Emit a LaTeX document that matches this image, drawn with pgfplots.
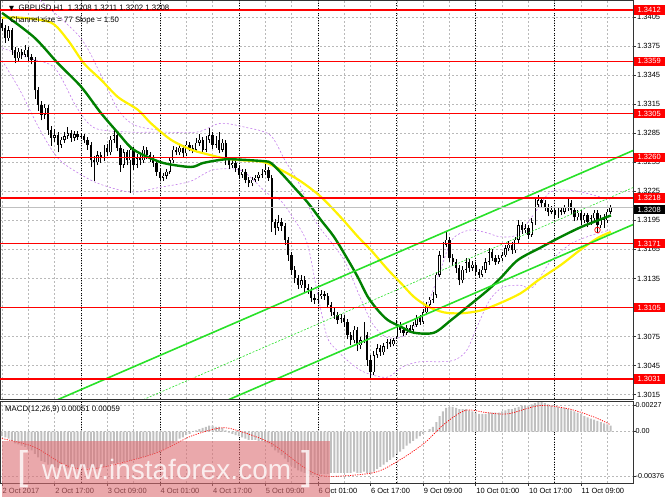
\documentclass[border=0pt]{standalone}
\usepackage{pgfplots}
\pgfplotsset{compat=1.18}
\usepackage{pgfplotstable}
\usepackage{fontspec}
\setmainfont{Liberation Sans}
\newfontfamily\dejavu{DejaVu Sans}
\definecolor{mtgreen}{RGB}{0,128,0}
\definecolor{chan}{RGB}{40,225,40}
\definecolor{bband}{RGB}{195,125,235}
\definecolor{gridc}{RGB}{185,185,185}
\definecolor{silverc}{RGB}{192,192,192}
\definecolor{wm}{RGB}{220,110,115}
\newcommand{\lbl}{\fontsize{7.5bp}{8bp}\selectfont}
\newcommand{\hdr}{\fontsize{7.8bp}{8bp}\selectfont}

\pgfplotstableread{
i o h l c
0 1.3399 1.3403 1.3390 1.3393
1 1.3393 1.3396 1.3378 1.3383
2 1.3383 1.3395 1.3380 1.3391
3 1.3391 1.3393 1.3366 1.3371
4 1.3371 1.3374 1.3357 1.3362
5 1.3362 1.3373 1.3359 1.3369
6 1.3369 1.3372 1.3361 1.3366
7 1.3366 1.3376 1.3363 1.3371
8 1.3371 1.3374 1.3359 1.3363
9 1.3363 1.3367 1.3356 1.3360
10 1.3360 1.3363 1.3320 1.3329
11 1.3329 1.3333 1.3308 1.3314
12 1.3314 1.3318 1.3298 1.3304
13 1.3304 1.3315 1.3300 1.3311
14 1.3311 1.3314 1.3283 1.3288
15 1.3288 1.3292 1.3272 1.3280
16 1.3280 1.3289 1.3276 1.3283
17 1.3283 1.3286 1.3265 1.3273
18 1.3273 1.3281 1.3270 1.3278
19 1.3278 1.3286 1.3275 1.3282
20 1.3282 1.3291 1.3279 1.3285
21 1.3285 1.3288 1.3276 1.3280
22 1.3280 1.3287 1.3277 1.3284
23 1.3284 1.3287 1.3278 1.3281
24 1.3281 1.3285 1.3279 1.3282
25 1.3282 1.3284 1.3275 1.3278
26 1.3278 1.3281 1.3268 1.3273
27 1.3273 1.3276 1.3250 1.3257
28 1.3257 1.3261 1.3236 1.3255
29 1.3255 1.3266 1.3252 1.3262
30 1.3262 1.3265 1.3254 1.3259
31 1.3259 1.3273 1.3256 1.3270
32 1.3270 1.3274 1.3261 1.3265
33 1.3265 1.3282 1.3262 1.3278
34 1.3278 1.3289 1.3275 1.3283
35 1.3283 1.3286 1.3266 1.3270
36 1.3270 1.3273 1.3245 1.3252
37 1.3252 1.3269 1.3249 1.3265
38 1.3265 1.3268 1.3252 1.3257
39 1.3257 1.3272 1.3223 1.3268
40 1.3268 1.3271 1.3247 1.3252
41 1.3252 1.3263 1.3249 1.3259
42 1.3259 1.3262 1.3252 1.3257
43 1.3257 1.3272 1.3254 1.3268
44 1.3268 1.3271 1.3258 1.3262
45 1.3262 1.3265 1.3255 1.3259
46 1.3259 1.3262 1.3250 1.3254
47 1.3254 1.3257 1.3241 1.3245
48 1.3245 1.3248 1.3236 1.3239
49 1.3239 1.3244 1.3236 1.3241
50 1.3241 1.3248 1.3238 1.3245
51 1.3245 1.3260 1.3243 1.3257
52 1.3257 1.3272 1.3254 1.3268
53 1.3268 1.3271 1.3262 1.3265
54 1.3265 1.3274 1.3262 1.3270
55 1.3270 1.3273 1.3260 1.3264
56 1.3264 1.3277 1.3261 1.3273
57 1.3273 1.3276 1.3266 1.3270
58 1.3270 1.3273 1.3264 1.3268
59 1.3268 1.3280 1.3265 1.3275
60 1.3275 1.3284 1.3272 1.3278
61 1.3278 1.3281 1.3264 1.3268
62 1.3268 1.3282 1.3265 1.3278
63 1.3278 1.3290 1.3275 1.3283
64 1.3283 1.3286 1.3269 1.3273
65 1.3273 1.3282 1.3270 1.3278
66 1.3278 1.3286 1.3264 1.3268
67 1.3268 1.3279 1.3265 1.3275
68 1.3275 1.3278 1.3252 1.3257
69 1.3257 1.3260 1.3248 1.3252
70 1.3252 1.3257 1.3249 1.3254
71 1.3254 1.3257 1.3245 1.3249
72 1.3249 1.3252 1.3238 1.3242
73 1.3242 1.3248 1.3239 1.3245
74 1.3245 1.3248 1.3233 1.3237
75 1.3237 1.3240 1.3229 1.3233
76 1.3233 1.3240 1.3230 1.3237
77 1.3237 1.3242 1.3234 1.3239
78 1.3239 1.3245 1.3236 1.3242
79 1.3242 1.3248 1.3239 1.3245
80 1.3245 1.3253 1.3242 1.3247
81 1.3247 1.3250 1.3236 1.3239
82 1.3239 1.3242 1.3183 1.3193
83 1.3193 1.3196 1.3180 1.3187
84 1.3187 1.3200 1.3184 1.3193
85 1.3193 1.3197 1.3184 1.3189
86 1.3189 1.3192 1.3170 1.3175
87 1.3175 1.3178 1.3153 1.3159
88 1.3159 1.3162 1.3139 1.3144
89 1.3144 1.3148 1.3130 1.3135
90 1.3135 1.3139 1.3124 1.3128
91 1.3128 1.3139 1.3125 1.3133
92 1.3133 1.3137 1.3120 1.3125
93 1.3125 1.3129 1.3119 1.3123
94 1.3123 1.3126 1.3111 1.3115
95 1.3115 1.3119 1.3109 1.3113
96 1.3113 1.3121 1.3110 1.3117
97 1.3117 1.3123 1.3114 1.3119
98 1.3119 1.3122 1.3113 1.3117
99 1.3117 1.3120 1.3104 1.3108
100 1.3108 1.3111 1.3096 1.3100
101 1.3100 1.3104 1.3093 1.3097
102 1.3097 1.3100 1.3088 1.3092
103 1.3092 1.3098 1.3089 1.3094
104 1.3094 1.3097 1.3085 1.3090
105 1.3090 1.3093 1.3072 1.3077
106 1.3077 1.3080 1.3066 1.3071
107 1.3071 1.3086 1.3068 1.3082
108 1.3082 1.3085 1.3060 1.3066
109 1.3066 1.3075 1.3062 1.3071
110 1.3071 1.3090 1.3068 1.3077
111 1.3077 1.3080 1.3045 1.3051
112 1.3051 1.3056 1.3031 1.3038
113 1.3038 1.3060 1.3035 1.3056
114 1.3056 1.3067 1.3053 1.3063
115 1.3063 1.3066 1.3055 1.3059
116 1.3059 1.3068 1.3056 1.3065
117 1.3065 1.3072 1.3062 1.3069
118 1.3069 1.3072 1.3064 1.3067
119 1.3067 1.3074 1.3065 1.3071
120 1.3075 1.3092 1.3073 1.3087
121 1.3087 1.3090 1.3079 1.3082
122 1.3082 1.3085 1.3076 1.3079
123 1.3079 1.3087 1.3077 1.3084
124 1.3084 1.3087 1.3079 1.3082
125 1.3082 1.3090 1.3080 1.3087
126 1.3087 1.3097 1.3085 1.3094
127 1.3094 1.3097 1.3087 1.3090
128 1.3090 1.3103 1.3088 1.3100
129 1.3100 1.3111 1.3097 1.3108
130 1.3108 1.3116 1.3105 1.3113
131 1.3113 1.3121 1.3110 1.3118
132 1.3118 1.3142 1.3115 1.3139
133 1.3139 1.3163 1.3136 1.3159
134 1.3159 1.3173 1.3156 1.3170
135 1.3170 1.3183 1.3167 1.3175
136 1.3175 1.3178 1.3152 1.3156
137 1.3156 1.3160 1.3148 1.3152
138 1.3152 1.3155 1.3141 1.3146
139 1.3146 1.3149 1.3128 1.3133
140 1.3133 1.3148 1.3130 1.3144
141 1.3144 1.3156 1.3141 1.3152
142 1.3152 1.3155 1.3142 1.3146
143 1.3146 1.3153 1.3143 1.3149
144 1.3149 1.3152 1.3138 1.3142
145 1.3142 1.3145 1.3135 1.3139
146 1.3139 1.3148 1.3136 1.3144
147 1.3144 1.3156 1.3141 1.3152
148 1.3152 1.3166 1.3149 1.3162
149 1.3162 1.3165 1.3153 1.3156
150 1.3156 1.3159 1.3149 1.3152
151 1.3152 1.3159 1.3150 1.3156
152 1.3156 1.3162 1.3153 1.3159
153 1.3159 1.3169 1.3157 1.3166
154 1.3166 1.3174 1.3163 1.3170
155 1.3170 1.3173 1.3160 1.3164
156 1.3164 1.3178 1.3161 1.3175
157 1.3175 1.3195 1.3172 1.3190
158 1.3190 1.3193 1.3181 1.3185
159 1.3185 1.3191 1.3182 1.3187
160 1.3187 1.3190 1.3176 1.3180
161 1.3180 1.3197 1.3178 1.3193
162 1.3193 1.3219 1.3190 1.3211
163 1.3211 1.3221 1.3208 1.3216
164 1.3216 1.3219 1.3209 1.3213
165 1.3213 1.3216 1.3205 1.3209
166 1.3209 1.3212 1.3199 1.3204
167 1.3204 1.3210 1.3201 1.3206
168 1.3206 1.3209 1.3196 1.3200
169 1.3200 1.3209 1.3197 1.3206
170 1.3206 1.3209 1.3200 1.3204
171 1.3204 1.3211 1.3201 1.3208
172 1.3208 1.3217 1.3205 1.3213
173 1.3213 1.3216 1.3202 1.3206
174 1.3206 1.3209 1.3194 1.3198
175 1.3198 1.3206 1.3195 1.3203
176 1.3203 1.3206 1.3190 1.3195
177 1.3195 1.3203 1.3192 1.3200
178 1.3200 1.3203 1.3188 1.3193
179 1.3193 1.3200 1.3190 1.3197
180 1.3197 1.3206 1.3194 1.3203
181 1.3203 1.3206 1.3182 1.3190
182 1.3190 1.3200 1.3187 1.3197
183 1.3197 1.3202 1.3187 1.3195
184 1.3195 1.3207 1.3192 1.3204
185 1.3204 1.3211 1.3202 1.3208
}\candles

\pgfplotstableread{
i m
0 -0.0004
1 -0.0005
2 -0.0006
3 -0.0008
4 -0.0010
5 -0.0011
6 -0.0012
7 -0.0013
8 -0.0015
9 -0.0016
10 -0.0019
11 -0.0022
12 -0.0025
13 -0.0026
14 -0.0028
15 -0.0030
16 -0.0030
17 -0.0031
18 -0.0031
19 -0.0031
20 -0.0031
21 -0.0031
22 -0.0031
23 -0.0031
24 -0.0031
25 -0.0031
26 -0.0031
27 -0.0032
28 -0.0032
29 -0.0032
30 -0.0031
31 -0.0030
32 -0.0029
33 -0.0028
34 -0.0027
35 -0.0027
36 -0.0026
37 -0.0026
38 -0.0025
39 -0.0025
40 -0.0024
41 -0.0023
42 -0.0023
43 -0.0022
44 -0.0021
45 -0.0020
46 -0.0019
47 -0.0018
48 -0.0017
49 -0.0016
50 -0.0014
51 -0.0012
52 -0.0010
53 -0.0008
54 -0.0006
55 -0.0005
56 -0.0003
57 -0.0002
58 0.0000
59 0.0001
60 0.0002
61 0.0003
62 0.0004
63 0.0005
64 0.0005
65 0.0004
66 0.0004
67 0.0003
68 0.0001
69 -0.0001
70 -0.0002
71 -0.0003
72 -0.0004
73 -0.0005
74 -0.0006
75 -0.0007
76 -0.0007
77 -0.0007
78 -0.0008
79 -0.0008
80 -0.0009
81 -0.0010
82 -0.0013
83 -0.0016
84 -0.0018
85 -0.0020
86 -0.0023
87 -0.0026
88 -0.0029
89 -0.0031
90 -0.0033
91 -0.0034
92 -0.0035
93 -0.0036
94 -0.0037
95 -0.0037
96 -0.0037
97 -0.0036
98 -0.0036
99 -0.0036
100 -0.0035
101 -0.0035
102 -0.0035
103 -0.0035
104 -0.0035
105 -0.0035
106 -0.0035
107 -0.0034
108 -0.0035
109 -0.0035
110 -0.0034
111 -0.0035
112 -0.0036
113 -0.0034
114 -0.0032
115 -0.0030
116 -0.0028
117 -0.0026
118 -0.0024
119 -0.0022
120 -0.0019
121 -0.0017
122 -0.0015
123 -0.0012
124 -0.0010
125 -0.0008
126 -0.0006
127 -0.0004
128 -0.0002
129 0.0000
130 0.0002
131 0.0004
132 0.0008
133 0.0013
134 0.0017
135 0.0020
136 0.0021
137 0.0021
138 0.0020
139 0.0019
140 0.0019
141 0.0019
142 0.0018
143 0.0017
144 0.0016
145 0.0015
146 0.0015
147 0.0015
148 0.0016
149 0.0016
150 0.0016
151 0.0016
152 0.0017
153 0.0018
154 0.0019
155 0.0019
156 0.0020
157 0.0021
158 0.0022
159 0.0022
160 0.0022
161 0.0023
162 0.0024
163 0.0025
164 0.0025
165 0.0024
166 0.0023
167 0.0022
168 0.0021
169 0.0021
170 0.0020
171 0.0020
172 0.0019
173 0.0018
174 0.0017
175 0.0016
176 0.0015
177 0.0013
178 0.0012
179 0.0011
180 0.0010
181 0.0009
182 0.0008
183 0.0007
184 0.0006
185 0.0005
}\macd

\tikzset{
  redlbl/.style={fill=red, text=white, anchor=west, inner xsep=0pt, inner ysep=1pt,
    minimum width=31bp, minimum height=9.5bp, font=\lbl, xshift=0.5bp},
  blklbl/.style={redlbl, fill=black},
}

\begin{document}
\begin{tikzpicture}
\useasboundingbox (0,0) rectangle (665bp,499bp);
% ---------------- main price panel
\begin{axis}[
  at={(0,100bp)}, anchor=south west,
  width=633bp, height=399bp, scale only axis,
  xmin=-0.6, xmax=191.8, ymin=1.30106, ymax=1.34223,
  clip mode=individual,
  axis line style={black!80, line width=0.7bp},
  xtick={0,16,...,176}, xticklabels={},
  minor xtick={8,24,...,184},
  xmajorgrids, xminorgrids, ymajorgrids,
  major grid style={gridc, dash pattern=on 2bp off 2bp, line width=0.5bp},
  minor grid style={gridc, dash pattern=on 2bp off 2bp, line width=0.5bp},
  extra x ticks={24,48,72,96,120,144,168}, extra x tick labels={},
  extra x tick style={xmajorgrids=true, major grid style={black, dash pattern=on 1bp off 1.5bp, line width=0.6bp}, tick style={draw=none}},
  xtick style={draw=none}, minor tick length=0pt,
  ytick={1.3015,1.3045,1.3075,1.3105,1.3135,1.3165,1.3195,1.3225,1.3255,1.3285,1.3315,1.3345,1.3375,1.3405},
  yticklabels={1.3015,1.3045,1.3075,1.3105,1.3135,1.3165,1.3195,1.3225,1.3255,1.3285,1.3315,1.3345,1.3375,1.3405},
  ytick pos=right, yticklabel pos=right,
  ytick style={black!80, line width=0.5bp}, major tick length=3bp, tick align=outside,
  yticklabel style={font=\lbl, anchor=west, inner sep=0pt, xshift=1bp},
  scaled y ticks=false,
]
% Bollinger-type envelopes
\addplot[bband, line width=0.6bp, dash pattern=on 2bp off 2bp, smooth, tension=0.5] coordinates {
(0,1.3373) (8.5,1.3362) (16.1,1.3352) (22.8,1.3311) (28.3,1.3290) (38.9,1.3286) (48,1.3286) (59.3,1.3286)
(66.3,1.3295) (73.9,1.3291) (81.5,1.3283) (86,1.3257) (90.6,1.3231) (95.1,1.3195) (100.6,1.3170) (104.3,1.3152)
(108.8,1.3116) (112.5,1.3089) (116.4,1.3075) (121,1.3074) (124.6,1.3082) (128.6,1.3102) (133.1,1.3142)
(136.8,1.3175) (142.2,1.3185) (147.4,1.3182) (151.4,1.3178) (156.5,1.3180) (161.4,1.3200) (166.6,1.3224)
(172.6,1.3226) (178.7,1.3222) (184.8,1.3216)};
\addplot[bband, line width=0.6bp, dash pattern=on 2bp off 2bp, smooth, tension=0.5] coordinates {
(0,1.3360) (5.5,1.3329) (11.6,1.3288) (17.6,1.3257) (26.7,1.3237) (32.8,1.3229) (39.8,1.3224) (48,1.3229)
(57.1,1.3235) (64.1,1.3247) (72.3,1.3247) (76.9,1.3235) (80.5,1.3223) (84.5,1.3216) (88.4,1.3198) (92.7,1.3172)
(95.7,1.3123) (98.8,1.3075) (101.8,1.3061) (105.8,1.3048) (110.3,1.3038) (117,1.3033) (121.9,1.3044)
(127,1.3049) (133.1,1.3049) (137.7,1.3051) (141.3,1.3061) (144.4,1.3085) (148.3,1.3113) (152.3,1.3126)
(157.4,1.3128) (161.4,1.3126) (166.6,1.3152) (172.6,1.3170) (178.7,1.3179) (184.8,1.3185)};
\addplot[bband, line width=0.6bp, dash pattern=on 2bp off 2bp, smooth, tension=0.5] coordinates {
(11.6,1.3422) (23.7,1.3384) (29.8,1.3347) (35.3,1.3309) (40.4,1.3293) (48,1.3288)};
% candles: wicks
\addplot[draw=none, mark=none, forget plot,
  error bars/.cd, y dir=plus, y explicit, error mark=none,
  error bar style={draw=black, line width=0.6bp}]
  table[x=i, y=l, y error expr=\thisrow{h}-\thisrow{l}] {\candles};
% bodies
\addplot[draw=none, mark=none, forget plot,
  error bars/.cd, y dir=plus, y explicit, error mark=none,
  error bar style={draw=black, line width=2.3bp}]
  table[x=i, y expr={min(\thisrow{o},\thisrow{c})}, y error expr={max(abs(\thisrow{c}-\thisrow{o}),0.00001)}] {\candles};
\addplot[draw=none, mark=none, forget plot,
  error bars/.cd, y dir=plus, y explicit, error mark=none,
  error bar style={draw=white, line width=1.0bp}]
  table[x=i, y expr={\thisrow{o}+0.00006}, y error expr={(\thisrow{c}>\thisrow{o}) ? max(\thisrow{c}-\thisrow{o}-0.00012,0) : 0}] {\candles};
% moving averages
\addplot[yellow, line width=2.2bp, smooth, tension=0.5] coordinates {
(0,1.3404) (5.8,1.3404) (14.9,1.3399) (20,1.3381) (24.9,1.3357) (30.1,1.3340) (35.3,1.3322) (41.3,1.3309)
(45.3,1.3295) (51.4,1.3278) (57.4,1.3268) (61.4,1.3264) (67.5,1.3259) (72.6,1.3257) (79.6,1.3255) (84.8,1.3247)
(90.9,1.3235) (97,1.3219) (103,1.3198) (108.2,1.3178) (112.2,1.3164) (117.3,1.3144) (121.3,1.3130) (125.2,1.3116)
(129.5,1.3106) (134.3,1.3100) (139.5,1.3099) (145.6,1.3102) (151.7,1.3110) (157.8,1.3120) (162.9,1.3133)
(169.9,1.3149) (176,1.3165) (181.2,1.3177) (185.1,1.3183)};
\addplot[mtgreen, line width=2.4bp, smooth, tension=0.5] coordinates {
(0,1.3409) (9.7,1.3384) (17,1.3357) (24,1.3333) (30,1.3306) (35.3,1.3285) (39.2,1.3270) (43.2,1.3262)
(49.2,1.3254) (57.4,1.3250) (61,1.3254) (65.7,1.3257) (69.6,1.3258) (79.6,1.3256) (81.8,1.3254) (84.8,1.3244)
(88.8,1.3229) (93,1.3213) (97,1.3195) (100.9,1.3178) (105.2,1.3154) (108.2,1.3136) (111.2,1.3116) (114.3,1.3102)
(117.3,1.3092) (121.3,1.3085) (125.2,1.3079) (131.3,1.3079) (136.5,1.3092) (141.6,1.3106) (147.7,1.3123)
(151.7,1.3136) (156.8,1.3154) (163.8,1.3167) (169.9,1.3178) (176,1.3188) (181.2,1.3195) (185.1,1.3200)};
% regression channel
\addplot[chan, line width=1.6bp] coordinates {(0,1.29850) (193,1.32687)};
\addplot[chan, line width=0.6bp, dash pattern=on 2bp off 1.5bp] coordinates {(0,1.29468) (193,1.32305)};
\addplot[chan, line width=1.6bp] coordinates {(0,1.29086) (193,1.31923)};
% current price
\addplot[silverc, line width=0.6bp] coordinates {(-1,1.3208) (193,1.3208)};
% support / resistance levels
\addplot[red, line width=1.5bp] coordinates {(-1,1.3412) (193,1.3412)};
\addplot[red, line width=1.5bp] coordinates {(-1,1.3359) (193,1.3359)};
\addplot[red, line width=1.5bp] coordinates {(-1,1.3305) (193,1.3305)};
\addplot[red, line width=1.5bp] coordinates {(-1,1.3260) (193,1.3260)};
\addplot[red, line width=1.5bp] coordinates {(-1,1.3218) (193,1.3218)};
\addplot[red, line width=1.5bp] coordinates {(-1,1.3171) (193,1.3171)};
\addplot[red, line width=1.5bp] coordinates {(-1,1.3105) (193,1.3105)};
\addplot[red, line width=1.5bp] coordinates {(-1,1.3031) (193,1.3031)};
% signal marker
\addplot[red, only marks, mark=o, mark size=2.8bp, line width=0.7bp] coordinates {(181,1.3185)};
% right labels
\node[redlbl] at (axis cs:191.8,1.3412) {1.3412};
\node[redlbl] at (axis cs:191.8,1.3359) {1.3359};
\node[redlbl] at (axis cs:191.8,1.3305) {1.3305};
\node[redlbl] at (axis cs:191.8,1.3260) {1.3260};
\node[redlbl] at (axis cs:191.8,1.3218) {1.3218};
\node[blklbl] at (axis cs:191.8,1.3206) {1.3208};
\node[redlbl] at (axis cs:191.8,1.3171) {1.3171};
\node[redlbl] at (axis cs:191.8,1.3105) {1.3105};
\node[redlbl] at (axis cs:191.8,1.3031) {1.3031};
\end{axis}

% ---------------- MACD panel
\begin{axis}[
  at={(0,16bp)}, anchor=south west,
  width=633bp, height=82bp, scale only axis,
  xmin=-0.6, xmax=191.8, ymin=-0.00437, ymax=0.00259,
  axis line style={black!80, line width=0.7bp},
  xtick={0,16,...,176},
  xticklabels={2 Oct 2017,2 Oct 17:00,3 Oct 09:00,4 Oct 01:00,4 Oct 17:00,5 Oct 09:00,6 Oct 01:00,6 Oct 17:00,9 Oct 09:00,10 Oct 01:00,10 Oct 17:00,11 Oct 09:00},
  xticklabel style={font=\lbl, anchor=north west, inner sep=0pt, xshift=0.5bp, yshift=-2.5bp},
  minor xtick={8,24,...,184},
  xmajorgrids, xminorgrids, ymajorgrids,
  major grid style={gridc, dash pattern=on 2bp off 2bp, line width=0.5bp},
  minor grid style={gridc, dash pattern=on 2bp off 2bp, line width=0.5bp},
  extra x ticks={24,48,72,96,120,144,168}, extra x tick labels={},
  extra x tick style={xmajorgrids=true, major grid style={black, dash pattern=on 1bp off 1.5bp, line width=0.6bp}, tick style={draw=none}},
  xtick pos=bottom, ytick pos=right, yticklabel pos=right,
  tick style={black!80, line width=0.5bp}, major tick length=3bp, minor tick length=0pt, tick align=outside,
  ytick={-0.00376,0,0.00227}, yticklabels={-0.00376,0.00,0.00227},
  yticklabel style={font=\fontsize{7.2bp}{8bp}\selectfont, anchor=west, inner sep=0pt, xshift=-0.5bp},
  scaled y ticks=false,
]
\addplot[ybar, bar width=2bp, bar shift=0pt, fill=silverc, draw=none] table[x=i, y=m] {\macd};
\addplot[red, line width=0.7bp, dash pattern=on 1.2bp off 1.2bp, smooth, tension=0.5] coordinates {
(0,-0.0006) (9.7,-0.0013) (18.8,-0.0028) (25.2,-0.0032) (32.8,-0.0029) (47.1,-0.0018) (57.4,-0.0004)
(66.3,0.0003) (71.4,0.0001) (81.8,-0.0010) (92.1,-0.0031) (98.5,-0.0038) (112.8,-0.0035) (120.4,-0.0025)
(128.3,-0.0010) (134.7,0.0007) (141,0.0018) (147.4,0.0016) (153.8,0.0015) (163.5,0.0022) (172.6,0.0019)
(180.2,0.0012) (184.8,0.0006)};
\end{axis}

% ---------------- texts
\node[anchor=west, inner sep=0pt, font=\hdr] at (9bp,491bp) {{\dejavu\fontsize{6.5bp}{6.5bp}\selectfont ▼}\ \ GBPUSD,H1\ \ 1.3208 1.3211 1.3202 1.3208};
\node[anchor=west, inner sep=0pt, font=\hdr] at (10bp,479bp) {Channel size = 77 Slope = 1.50};
\node[anchor=west, inner sep=0pt, font=\hdr] at (5bp,90bp) {MACD(12,26,9) 0.00051 0.00059};

% ---------------- watermark
\fill[wm, opacity=0.6] (2bp,2bp) rectangle (330bp,58bp);
\node[anchor=center, inner sep=0pt, text=white, opacity=0.8, font=\fontsize{40bp}{40bp}\selectfont] at (23bp,30bp) {[};
\node[anchor=center, inner sep=0pt, text=white, opacity=0.8, font=\fontsize{40bp}{40bp}\selectfont] at (307bp,30bp) {]};
\node[anchor=base west, inner sep=0pt, text=white, opacity=0.8, font=\fontsize{28bp}{28bp}\selectfont] at (42bp,20bp) {www.instaforex.com};
\end{tikzpicture}
\end{document}
